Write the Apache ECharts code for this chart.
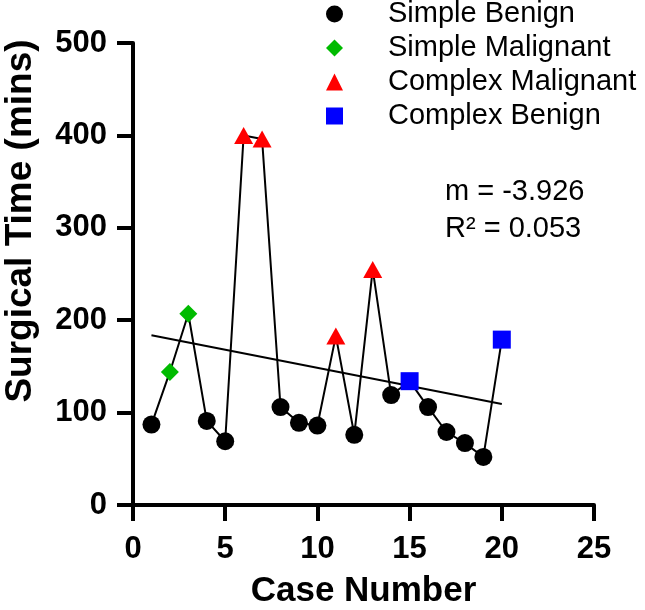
<!DOCTYPE html>
<html><head><meta charset="utf-8">
<script src="https://cdn.jsdelivr.net/npm/echarts@6/dist/echarts.min.js"></script>
<style>html,body{margin:0;padding:0;background:#fff}#c{width:645px;height:610px}</style>
</head><body><div id="c"></div>
<script>
// ---- data ----
const caseNumbers = [1,2,3,4,5,6,7,8,9,10,11,12,13,14,15,16,17,18,19,20];
const surgicalTimes = [87,144,207,91,69,400,396,106,89,86,183,76,255,119,134,106,79,67,52,179];
const caseGroups = ['Simple Benign','Simple Malignant','Simple Malignant','Simple Benign','Simple Benign',
  'Complex Malignant','Complex Malignant','Simple Benign','Simple Benign','Simple Benign',
  'Complex Malignant','Simple Benign','Complex Malignant','Simple Benign','Complex Benign',
  'Simple Benign','Simple Benign','Simple Benign','Simple Benign','Complex Benign'];
const groupNames = ['Simple Benign','Simple Malignant','Complex Malignant','Complex Benign'];
const fitX = [1, 20];
const fitY = [183.8, 109.2];
const xTickValues = [0,5,10,15,20,25];
const yTickValues = [0,100,200,300,400,500];
const slopeLabel = 'm = -3.926';
const r2Label = 'R² = 0.053';
const xTitle = 'Case Number';
const yTitle = 'Surgical Time (mins)';

// ---- styles ----
const groupStyle = {
  'Simple Benign':     {symbol:'circle',   size:18,      color:'#000000'},
  'Simple Malignant':  {symbol:'diamond',  size:18,      color:'#00BB00'},
  'Complex Malignant': {symbol:'triangle', size:[19,17], color:'#FF0000'},
  'Complex Benign':    {symbol:'rect',     size:18,      color:'#0000FF'}
};
const FONT = '"Liberation Sans", Arial, Helvetica, sans-serif';

const chart = echarts.init(document.getElementById('c'), null, {renderer:'canvas'});

const series = [];
series.push({
  type:'line', name:'path', data: caseNumbers.map((x,i)=>[x, surgicalTimes[i]]),
  symbol:'none', lineStyle:{color:'#000', width:2}, z:2, silent:true
});
series.push({
  type:'line', name:'fit', data: fitX.map((x,i)=>[x, fitY[i]]),
  symbol:'none', lineStyle:{color:'#000', width:2}, z:2, silent:true
});
groupNames.forEach(g=>{
  const st = groupStyle[g];
  series.push({
    type:'scatter', name:g,
    data: caseNumbers.map((x,i)=>caseGroups[i]===g ? [x, surgicalTimes[i]] : null).filter(d=>d),
    symbol: st.symbol, symbolSize: st.size,
    itemStyle:{color: st.color, opacity:1}, z:5
  });
});

const axisCommon = {
  axisLine:{show:true, lineStyle:{color:'#000', width:4}},
  axisTick:{show:true, length:16, lineStyle:{color:'#000', width:4}},
  splitLine:{show:false},
  axisLabel:{color:'#000', fontFamily:FONT, fontWeight:'bold', fontSize:31}
};

chart.setOption({
  animation:false,
  backgroundColor:'#fff',
  grid:{left:133, right:51, top:43, bottom:105, containLabel:false, outerBoundsMode:'none'},
  xAxis: Object.assign({}, axisCommon, {
    type:'value', min:xTickValues[0], max:xTickValues[xTickValues.length-1], interval:5,
    name:xTitle, nameLocation:'middle', nameGap:69,
    nameTextStyle:{color:'#000', fontFamily:FONT, fontWeight:'bold', fontSize:35},
    axisLabel:Object.assign({}, axisCommon.axisLabel, {margin:29})
  }),
  yAxis: Object.assign({}, axisCommon, {
    type:'value', min:yTickValues[0], max:yTickValues[yTickValues.length-1], interval:100,
    axisLabel:Object.assign({}, axisCommon.axisLabel, {margin:26})
  }),
  legend:{
    data: groupNames, orient:'vertical', left:326, top:-1, padding:0,
    itemWidth:17, itemHeight:17, itemGap:4,
    textStyle:{color:'#000', fontFamily:FONT, fontSize:29, lineHeight:30, padding:[0,0,0,40]},
    selectedMode:false
  },
  graphic:[
    {type:'text', x:21, y:221, rotation:Math.PI/2,
     style:{text:yTitle, fill:'#000', font:'bold 37px '+FONT, textAlign:'center', textVerticalAlign:'middle', align:'center', verticalAlign:'middle'}},
    {type:'text', x:445, y:192,
     style:{text:slopeLabel, fill:'#000', font:'29px '+FONT, textAlign:'left', textVerticalAlign:'middle', align:'left', verticalAlign:'middle'}},
    {type:'text', x:445, y:229,
     style:{text:r2Label, fill:'#000', font:'29px '+FONT, textAlign:'left', textVerticalAlign:'middle', align:'left', verticalAlign:'middle'}}
  ],
  series: series
});
</script></body></html>
